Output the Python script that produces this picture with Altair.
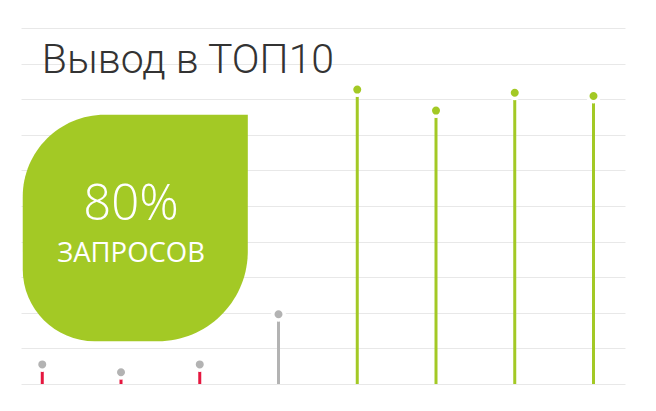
import altair as alt
import pandas as pd

# ---- data ----
positions = [0, 1, 2, 3, 4, 5, 6, 7]
values = [5.5, 3.3, 5.5, 19.6, 82.7, 76.8, 81.8, 80.9]
stem_colors = ["#e5173f", "#e5173f", "#e5173f", "#b3b3b3",
               "#a3c925", "#a3c925", "#a3c925", "#a3c925"]
dot_colors = ["#b3b3b3", "#b3b3b3", "#b3b3b3", "#b3b3b3",
              "#a3c925", "#a3c925", "#a3c925", "#a3c925"]

title_text = "Вывод в ТОП10"
badge_value = "80%"
badge_label = "ЗАПРОСОВ"
grid_values = [0, 10, 20, 30, 40, 50, 60, 70, 80, 90, 100]

# badge (leaf) extent and text anchors in data units
leaf_x = [-0.248]
leaf_x2 = [2.61]
leaf_y = [75.6]
leaf_y2 = [12.0]
badge_text_x = [1.128]
badge_value_y = [46.2]
badge_label_y = [34.35]
title_x = [-0.005]
title_y = [87.5]

green = "#a3c925"

df = pd.DataFrame({
    "pos": positions,
    "value": values,
    "zero": [0] * len(values),
    "stem": stem_colors,
    "dot": dot_colors,
})

xscale = alt.Scale(domain=[-0.27, 7.4], nice=False, zero=False)
yscale = alt.Scale(domain=[0, 100], nice=False)
yaxis = alt.Axis(values=grid_values, grid=True, gridColor="#e8e8e8",
                 gridWidth=1, labels=False, ticks=False, domain=False,
                 title=None)


def X(field):
    return alt.X(field, scale=xscale, axis=None)


def Y(field):
    return alt.Y(field, scale=yscale, axis=yaxis)


base = alt.Chart(df)

title_df = pd.DataFrame({"x": title_x, "y": title_y, "t": [title_text]})
title = alt.Chart(title_df).mark_text(
    font="Roboto", fontWeight=300, fontSize=41, color="#333333",
    align="left", baseline="alphabetic",
).encode(x=X("x:Q"), y=Y("y:Q"), text="t:N")

leaf_df = pd.DataFrame({"x": leaf_x, "x2": leaf_x2, "y": leaf_y, "y2": leaf_y2})
leaf = alt.Chart(leaf_df).mark_rect(
    color=green,
    cornerRadiusTopLeft=82,
    cornerRadiusTopRight=0,
    cornerRadiusBottomLeft=72,
    cornerRadiusBottomRight=90,
).encode(x=X("x:Q"), x2="x2:Q", y=Y("y:Q"), y2="y2:Q")

val_df = pd.DataFrame({"x": badge_text_x, "y": badge_value_y, "t": [badge_value]})
badge_val = alt.Chart(val_df).mark_text(
    color="white", font="Open Sans Light, Open Sans", fontWeight=300,
    fontSize=49, baseline="alphabetic", align="center",
).encode(x=X("x:Q"), y=Y("y:Q"), text="t:N")

lab_df = pd.DataFrame({"x": badge_text_x, "y": badge_label_y, "t": [badge_label]})
badge_lab = alt.Chart(lab_df).mark_text(
    color="white", font="Open Sans", fontWeight="normal", fontSize=27.5,
    baseline="alphabetic", align="center",
).encode(x=X("x:Q"), y=Y("y:Q"), text="t:N")

stems = base.mark_rule(strokeWidth=3).encode(
    x=X("pos:Q"),
    y=Y("value:Q"),
    y2="zero:Q",
    color=alt.Color("stem:N", scale=None),
)

dots = base.mark_point(filled=True, shape="circle", size=132, opacity=1,
                       stroke="white", strokeWidth=3.5,
                       strokeOpacity=1).encode(
    x=X("pos:Q"),
    y=Y("value:Q"),
    fill=alt.Fill("dot:N", scale=None),
)

chart = alt.layer(title, leaf, badge_val, badge_lab, stems, dots).properties(
    width=604,
    height=356,
    padding={"left": 13, "top": 20, "right": 10, "bottom": 10},
    autosize=alt.AutoSizeParams(type="none"),
).configure_view(stroke=None)

chart.save("out.html", embed_options={"renderer": "svg", "actions": False})
